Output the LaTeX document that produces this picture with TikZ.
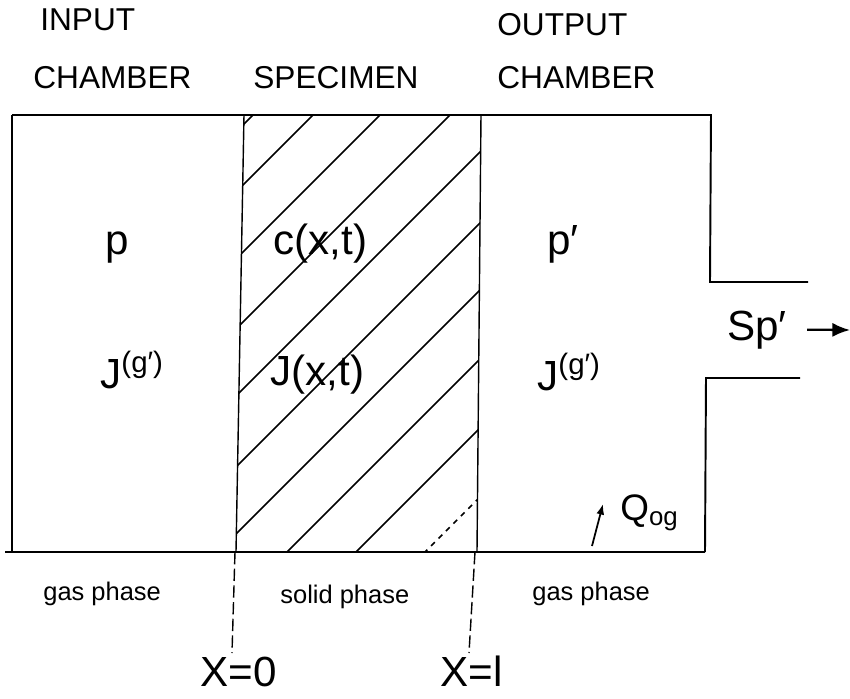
\documentclass[tikz,border=0pt]{standalone}
\usepackage{fontspec}
\setmainfont{Liberation Sans}
\usetikzlibrary{arrows.meta,positioning}

\begin{document}
\begin{tikzpicture}[
    x=0.02cm, y=-0.02cm,
    rim/.style={line width=1.6pt},
    wall/.style={line width=1.1pt},
    slab/.style={line width=0.8pt},
    hatch/.style={line width=0.9pt},
    bound/.style={line width=0.8pt, dash pattern=on 7pt off 2.5pt},
    head/.style={font=\fontsize{18}{20}\selectfont, anchor=base west, inner sep=0pt},
    quant/.style={font=\fontsize{24}{26}\selectfont, anchor=base west, inner sep=0pt},
    phase/.style={font=\fontsize{14.5}{16}\selectfont, anchor=base west, inner sep=0pt},
    arr/.style={-{Latex[length=10pt,width=8pt]}, line width=1.3pt},
    qarr/.style={-{Latex[length=6pt,width=4.5pt]}, line width=1pt}
  ]
  \useasboundingbox (0,0) rectangle (850,698);

  \node[head] (input) at (40,30) {INPUT};
  \node[head] (inchamber) at (33,88) {CHAMBER};
  \node[head] (specimen) at (253,88) {SPECIMEN};
  \node[head] (output) at (497,35) {OUTPUT};
  \node[head] (outchamber) at (497,88) {CHAMBER};

  \begin{scope}
    \clip (244,115) -- (481,115) -- (477,552) -- (236,552) -- cycle;
    \foreach \yy in {128,188,255,325,392,463,530,599,668}
      \draw[hatch] (200,\yy+40) -- ++(400,-400);
    \draw[hatch, dashed] (200,777) -- ++(400,-400);
  \end{scope}

  \draw[rim] (12,115) -- (712,115);
  \draw[rim] (5,552) -- (705,552);
  \draw[wall] (12,115) -- (12,552);
  \draw[wall] (711,115) -- (710,282) -- (808,282);
  \draw[wall] (800,378) -- (706,378) -- (705,552);
  \draw[slab] (244,115) -- (236,552);
  \draw[slab] (481,115) -- (477,552);
  \draw[bound] (235,552) -- (232,653);
  \draw[bound] (475,552) -- (469,653);

  \node[quant] (pin) at (105,254) {p};
  \node[quant] (jin) at (100,388) {J\textsuperscript{(g′)}};
  \node[quant] (conc) at (273,254) {c(x,t)};
  \node[quant] (flux) at (270,385) {J(x,t)};
  \node[quant] (pout) at (547,254) {p′};
  \node[quant] (jout) at (537,390) {J\textsuperscript{(g′)}};
  \node[quant] (sp) at (727,340) {Sp′};
  \node[quant, font=\fontsize{21}{24}\selectfont] (qog) at (620,520) {Q\textsubscript{og}};

  \coordinate (spend) at (850,330);
  \draw[arr] ([xshift=0.4cm]sp.east) -- (spend);
  \coordinate (qtail) at (592,546);
  \coordinate (qhead) at (603,504);
  \draw[qarr] (qtail) -- (qhead);

  \node[phase] (gasin) at (43,600) {gas phase};
  \node[phase] (solid) at (280,603) {solid phase};
  \node[phase] (gasout) at (532,600) {gas phase};
  \node[quant] (xzero) at (200,686) {X=0};
  \node[quant] (xone) at (440,686) {X=l};
\end{tikzpicture}
\end{document}
